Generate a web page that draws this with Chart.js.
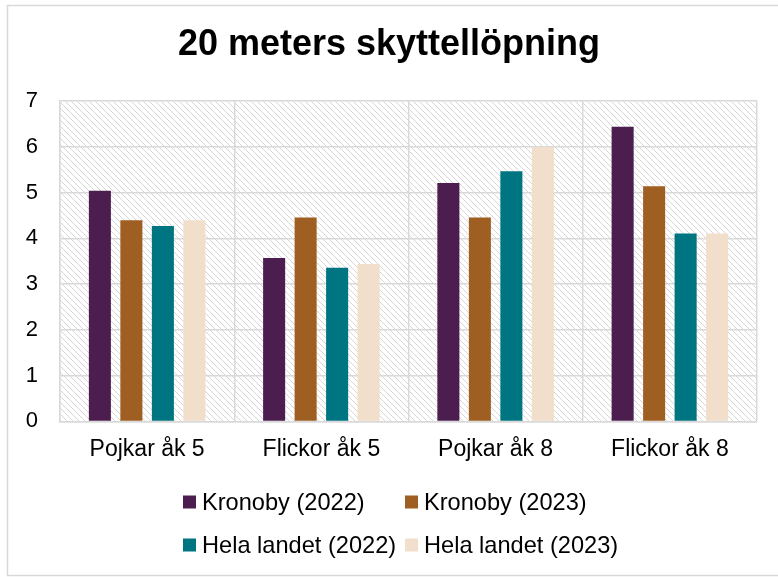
<!DOCTYPE html>
<html>
<head>
<meta charset="utf-8">
<script src="https://cdn.jsdelivr.net/npm/chart.js@4.4.0/dist/chart.umd.min.js"></script>
<style>
html,body{margin:0;padding:0;background:#fff;}
#wrap{width:778px;height:577px;position:relative;}
</style>
</head>
<body>
<div id="wrap"><canvas id="c" width="778" height="577"></canvas></div>
<script>
const categories = ['Pojkar åk 5', 'Flickor åk 5', 'Pojkar åk 8', 'Flickor åk 8'];
const kronoby2022 = [5.04, 3.57, 5.21, 6.44];
const kronoby2023 = [4.40, 4.46, 4.46, 5.14];
const helaLandet2022 = [4.27, 3.36, 5.47, 4.11];
const helaLandet2023 = [4.40, 3.44, 6.00, 4.11];
const seriesNames = ['Kronoby (2022)', 'Kronoby (2023)', 'Hela landet (2022)', 'Hela landet (2023)'];
const yTicks = [0, 1, 2, 3, 4, 5, 6, 7];

const colors = ['#4C1E4F', '#A05F22', '#007582', '#F2DFCB'];
const FONT = '"Liberation Sans", Arial, sans-serif';

// hatch pattern
const tile = document.createElement('canvas');
tile.width = 6; tile.height = 6;
const tctx = tile.getContext('2d');
tctx.fillStyle = '#ffffff';
tctx.fillRect(0, 0, 6, 6);
tctx.strokeStyle = '#d6d6d6';
tctx.lineWidth = 1;
tctx.beginPath();
tctx.moveTo(0, 0); tctx.lineTo(6, 6);
tctx.moveTo(-1, 5); tctx.lineTo(1, 7);
tctx.moveTo(5, -1); tctx.lineTo(7, 1);
tctx.stroke();

const bgPlugin = {
  id: 'bg',
  beforeDraw(chart) {
    const ctx = chart.ctx;
    const a = chart.chartArea;
    ctx.save();
    ctx.fillStyle = '#ffffff';
    ctx.fillRect(0, 0, chart.width, chart.height);
    ctx.strokeStyle = '#d9d9d9';
    ctx.lineWidth = 1.5;
    ctx.strokeRect(7.5, 5.5, chart.width + 10, chart.height - 7);
    ctx.fillStyle = ctx.createPattern(tile, 'repeat');
    ctx.fillRect(a.left, a.top, a.right - a.left, a.bottom - a.top);
    ctx.restore();
  }
};

const legendPlugin = {
  id: 'gridLegend',
  afterDraw(chart, args, opts) {
    const ctx = chart.ctx;
    ctx.save();
    ctx.font = opts.fontSize + 'px ' + FONT;
    ctx.textBaseline = 'middle';
    ctx.textAlign = 'left';
    chart.data.datasets.forEach((ds, i) => {
      const col = i % 2, row = Math.floor(i / 2);
      const x = opts.left + col * opts.colWidth;
      const y = opts.top + row * opts.rowHeight;
      ctx.fillStyle = ds.backgroundColor;
      ctx.fillRect(x, y - opts.box / 2, opts.box, opts.box);
      ctx.fillStyle = '#000000';
      ctx.fillText(ds.label, x + opts.box + opts.gap, y + 1);
    });
    ctx.restore();
  }
};

const datasets = [kronoby2022, kronoby2023, helaLandet2022, helaLandet2023].map((vals, i) => ({
  label: seriesNames[i],
  data: vals,
  backgroundColor: colors[i],
  borderWidth: 0,
  categoryPercentage: 0.723,
  barPercentage: 0.70
}));

new Chart(document.getElementById('c'), {
  type: 'bar',
  data: { labels: categories, datasets },
  plugins: [bgPlugin, legendPlugin],
  options: {
    responsive: false,
    animation: false,
    devicePixelRatio: 1,
    layout: { padding: { left: 0, right: 0, top: 0, bottom: 100 } },
    plugins: {
      legend: { display: false },
      tooltip: { enabled: false },
      title: {
        display: true,
        text: '20 meters skyttellöpning',
        color: '#000000',
        font: { family: FONT, size: 36, weight: 'bold' },
        padding: { top: 23, bottom: 35 }
      },
      gridLegend: { left: 183, top: 502, colWidth: 222, rowHeight: 43, box: 13, gap: 6, fontSize: 23.6 }
    },
    scales: {
      x: {
        grid: { color: '#d9d9d9', lineWidth: 1.5, drawTicks: false, offset: true },
        border: { color: '#d9d9d9', width: 1.5 },
        ticks: { color: '#000000', font: { family: FONT, size: 23 }, padding: 14 }
      },
      y: {
        min: 0, max: 7,
        afterBuildTicks(axis) { axis.ticks = yTicks.map(v => ({ value: v })); },
        afterFit(axis) { axis.width = 60; },
        grid: { color: '#d9d9d9', lineWidth: 1.5, drawTicks: false },
        border: { color: '#d9d9d9', width: 1.5 },
        ticks: { color: '#000000', font: { family: FONT, size: 22 }, padding: 22 }
      },
      yRight: {
        position: 'right',
        min: 0, max: 7,
        afterFit(axis) { axis.width = 21; },
        grid: { display: false, drawOnChartArea: false },
        border: { display: false },
        ticks: { display: false }
      }
    }
  }
});
</script>
</body>
</html>
